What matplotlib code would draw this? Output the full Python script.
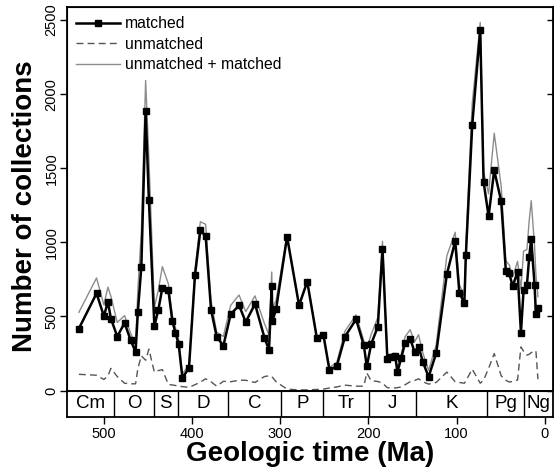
"""Collections through the Phanerozoic: matched vs unmatched counts per time bin."""
import matplotlib.pyplot as plt

plt.rcParams['font.family'] = ['Liberation Sans', 'DejaVu Sans']

# bin midpoints (Ma)
ages = [528.6, 508.5, 500.2, 495.6, 492.2, 485.0, 476.7, 469.9, 464.2, 461.6,
        457.7, 452.8, 449.1, 442.9, 438.4, 433.8, 427.0, 422.5, 419.1, 415.3,
        411.1, 403.6, 396.8, 390.7, 384.7, 378.6, 372.2, 364.6, 356.3, 346.8,
        339.2, 328.7, 318.0, 312.8, 309.7, 308.9, 304.8, 292.3, 278.7, 269.4,
        258.6, 251.0, 244.2, 235.9, 226.5, 214.0, 205.2, 201.8, 196.9, 189.3,
        184.0, 178.5, 174.2, 169.7, 167.0, 162.9, 158.3, 152.6, 147.6, 143.1,
        138.2, 131.7, 123.1, 111.0, 101.5, 96.8, 91.1, 89.4, 82.2, 73.1,
        69.3, 63.6, 57.2, 49.3, 44.0, 40.2, 36.3, 30.7, 26.9, 23.9,
        20.1, 17.5, 15.2, 11.4, 9.9, 7.6]

matched = [418, 656, 503, 598, 486, 365, 456, 342, 261, 533,
           833, 1887, 1284, 436, 544, 694, 678, 470, 392, 313,
           86, 153, 777, 1082, 1042, 546, 365, 302, 515, 575,
           463, 584, 358, 275, 705, 470, 548, 1038, 575, 735,
           358, 373, 138, 165, 365, 481, 306, 163, 313, 432,
           957, 215, 230, 234, 127, 217, 324, 351, 261, 297,
           194, 93, 252, 784, 1008, 661, 590, 912, 1789, 2433,
           1408, 1177, 1486, 1277, 806, 791, 705, 800, 392, 676,
           712, 903, 1024, 710, 515, 557]

unmatched = [110, 104, 75, 100, 150, 95, 50, 46, 46, 150,
             235, 205, 280, 125, 135, 142, 42, 38, 35, 30,
             27, 22, 40, 57, 80, 60, 30, 63, 60, 70,
             70, 55, 95, 100, 95, 90, 60, 10, 5, 5,
             8, 10, 18, 25, 37, 30, 30, 120, 66, 62,
             50, 20, 17, 18, 20, 25, 40, 60, 68, 80,
             60, 44, 55, 125, 60, 55, 50, 65, 145, 50,
             70, 150, 250, 100, 70, 58, 62, 72, 295, 265,
             240, 245, 257, 262, 268, 77]

total = [528, 760, 578, 698, 636, 460, 506, 388, 307, 683,
         1068, 2092, 1564, 561, 679, 836, 720, 508, 427, 343,
         113, 175, 817, 1139, 1122, 606, 395, 365, 575, 645,
         533, 639, 453, 375, 800, 560, 608, 1048, 580, 740,
         366, 383, 156, 190, 402, 511, 336, 283, 379, 494,
         1007, 235, 247, 252, 147, 242, 364, 411, 329, 377,
         254, 137, 307, 909, 1068, 716, 640, 977, 1934, 2483,
         1478, 1327, 1736, 1377, 876, 849, 767, 872, 687, 941,
         952, 1148, 1281, 972, 783, 634]

period_names = ['Cm', 'O', 'S', 'D', 'C', 'P', 'Tr', 'J', 'K', 'Pg', 'Ng']
period_bounds = [542.0, 488.3, 443.7, 416.0, 359.2, 299.0, 251.0, 199.6, 145.5, 65.5, 23.0]

XLIM = (542.0, -10.0)

fig = plt.figure(figsize=(5.54, 4.71), dpi=100)
ax = fig.add_axes([0.121, 0.170, 0.878, 0.815])
strip = fig.add_axes([0.121, 0.1147, 0.878, 0.0552], sharex=ax)

ax.plot(ages, total, color='#8c8c8c', lw=1.0, label='unmatched + matched', zorder=2)
ax.plot(ages, unmatched, color='#555555', lw=1.0, ls=(0, (5, 3)), label='unmatched', zorder=2)
ax.plot(ages, matched, color='black', lw=1.8, marker='s', ms=4, label='matched', zorder=3)

ax.set_xlim(*XLIM)
ax.set_ylim(-2, 2587)
ax.set_yticks([0, 500, 1000, 1500, 2000, 2500])
ax.tick_params(axis='y', which='both', direction='out', length=5, width=1,
               labelsize=10.5, labelrotation=90, pad=1)
for lab in ax.get_yticklabels():
    lab.set_va('center')
ax.tick_params(axis='x', bottom=False, labelbottom=False)
for s in ax.spines.values():
    s.set_linewidth(1.3)

# inward ticks on the right side, no labels
ax_r = ax.twinx()
ax_r.set_ylim(ax.get_ylim())
ax_r.set_yticks([0, 500, 1000, 1500, 2000, 2500])
ax_r.tick_params(axis='y', direction='in', length=4, width=1, labelright=False)

handles, labels = ax.get_legend_handles_labels()
order = [2, 1, 0]
ax.legend([handles[i] for i in order], [labels[i] for i in order],
          loc='upper left', frameon=False, fontsize=11.3, handlelength=2.8,
          handletextpad=0.3, labelspacing=0.35, borderaxespad=0.2,
          bbox_to_anchor=(0.0, 1.0))

ax.set_ylabel('Number of collections', fontsize=20, fontweight='bold')
ax.yaxis.set_label_coords(-0.060, 0.48)

# period strip
edges = period_bounds + [XLIM[1]]
for b in period_bounds[1:]:
    strip.axvline(b, color='black', lw=1.0)
for name, left, right in zip(period_names, edges[:-1], edges[1:]):
    strip.text((left + right) / 2, 0.5, name, ha='center', va='center', fontsize=13.5)
strip.set_ylim(0, 1)
strip.set_yticks([])
strip.set_xticks([500, 400, 300, 200, 100, 0])
strip.tick_params(axis='x', direction='out', length=5, width=1, labelsize=10.5, pad=2)
for s in strip.spines.values():
    s.set_linewidth(1.3)
strip.set_xlabel('Geologic time (Ma)', fontsize=20, fontweight='bold', labelpad=0)

fig.savefig('out.png', dpi=100)
